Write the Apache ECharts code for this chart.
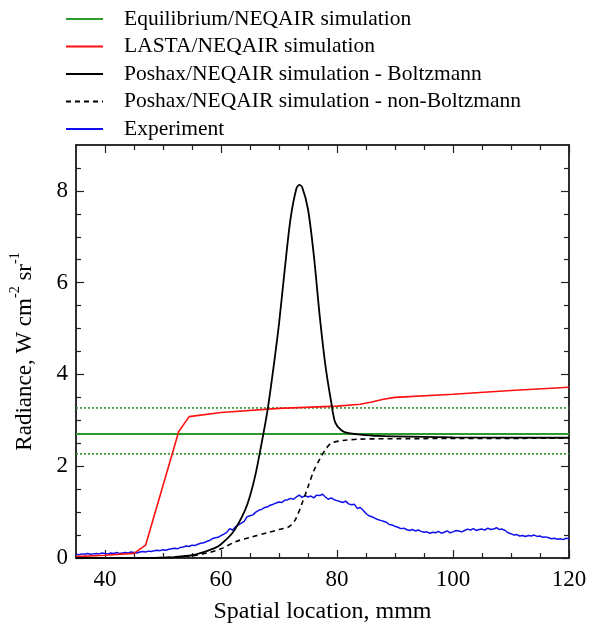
<!DOCTYPE html>
<html>
<head>
<meta charset="utf-8">
<script src="https://cdn.jsdelivr.net/npm/echarts@6/dist/echarts.min.js"></script>
<style>
  html, body { margin: 0; padding: 0; background: #fff; }
  #chart { width: 596px; height: 630px; }
</style>
</head>
<body>
<div id="chart"></div>
<script>
// 数据
const eqValue = 2.7
const eqUpper = 3.27
const eqLower = 2.27
const eqX = [35, 120]

const lastaX = [35, 40, 45, 47, 52.7, 54.5, 60, 70, 80, 84, 86, 88, 90, 100, 110, 120]
const lastaY = [0.03, 0.06, 0.1, 0.28, 2.75, 3.08, 3.17, 3.26, 3.31, 3.35, 3.4, 3.46, 3.5, 3.57, 3.65, 3.72]

const boltzX = [35, 45, 50, 52, 55, 57, 59, 60, 62, 64, 65, 66, 67, 68, 69, 70, 71, 72, 73, 73.5, 74, 75, 76, 77, 78, 79, 79.7, 80.8, 82, 84, 87, 90, 100, 120]
const boltzY = [0, 0, 0.01, 0.02, 0.06, 0.13, 0.22, 0.3, 0.55, 1.0, 1.35, 1.85, 2.5, 3.2, 4.1, 5.1, 6.3, 7.4, 8.05, 8.13, 8.08, 7.6, 6.6, 5.3, 4.2, 3.4, 2.95, 2.78, 2.72, 2.69, 2.66, 2.65, 2.63, 2.62]

const nonBoltzX = [35, 45, 50, 55, 58, 60, 62.6, 65, 68, 70, 71.7, 72.8, 74, 75, 76, 77, 78, 79, 81, 84, 90, 120]
const nonBoltzY = [0, 0, 0.01, 0.05, 0.12, 0.2, 0.36, 0.45, 0.55, 0.62, 0.68, 0.83, 1.2, 1.55, 1.9, 2.15, 2.36, 2.5, 2.56, 2.59, 2.6, 2.61]

// 实验数据，x 从 35 开始，每 0.5 mm 一个点
const expStart = 35
const expStep = 0.5
const expY = [
  0.08, 0.07, 0.09, 0.08, 0.10, 0.08, 0.09, 0.10, 0.09, 0.11,
  0.10, 0.09, 0.11, 0.10, 0.12, 0.10, 0.11, 0.12, 0.11, 0.13,
  0.12, 0.11, 0.13, 0.14, 0.13, 0.15, 0.14, 0.16, 0.17, 0.16,
  0.18, 0.17, 0.19, 0.20, 0.21, 0.20, 0.23, 0.24, 0.26, 0.25,
  0.28, 0.27, 0.30, 0.32, 0.33, 0.36, 0.38, 0.42, 0.44, 0.45,
  0.49, 0.52, 0.56, 0.64, 0.61, 0.68, 0.72, 0.76, 0.80, 0.90,
  0.92, 0.94, 1.00, 1.04, 1.06, 1.10, 1.11, 1.15, 1.17, 1.20,
  1.22, 1.21, 1.26, 1.27, 1.30, 1.28, 1.33, 1.37, 1.32, 1.36,
  1.33, 1.35, 1.31, 1.37, 1.36, 1.39, 1.33, 1.28, 1.31, 1.27,
  1.25, 1.23, 1.21, 1.24, 1.18, 1.16, 1.17, 1.08, 1.10, 1.04,
  0.97, 0.92, 0.90, 0.87, 0.84, 0.82, 0.80, 0.78, 0.73, 0.72,
  0.69, 0.67, 0.64, 0.65, 0.62, 0.60, 0.62, 0.59, 0.61, 0.58,
  0.56, 0.57, 0.54, 0.56, 0.55, 0.58, 0.54, 0.56, 0.59, 0.55,
  0.57, 0.60, 0.59, 0.57, 0.60, 0.63, 0.61, 0.64, 0.60, 0.62,
  0.63, 0.61, 0.65, 0.62, 0.63, 0.66, 0.62, 0.63, 0.60, 0.55,
  0.53, 0.50, 0.51, 0.48, 0.49, 0.47, 0.49, 0.48, 0.50, 0.47,
  0.48, 0.45, 0.46, 0.44, 0.42, 0.43, 0.41, 0.42, 0.40, 0.43,
  0.42
]

const xMajor = [40, 60, 80, 100, 120]
const xMinor = [45, 50, 55, 65, 70, 75, 85, 90, 95, 105, 110, 115]
const yMajor = [0, 2, 4, 6, 8]
const yMinor = [0.5, 1, 1.5, 2.5, 3, 3.5, 4.5, 5, 5.5, 6.5, 7, 7.5, 8.5]

const pairs = (xs, ys) => xs.map((x, i) => [x, ys[i]])
const expData = expY.map((y, i) => [expStart + i * expStep, y])

const font = 'Liberation Serif'
const axisColor = '#222'

function xAxisOf(pos, ticks, len, labels) {
  return {
    type: 'value', position: pos, min: 35, max: 120,
    axisLine: { show: true, onZero: false, lineStyle: { color: axisColor, width: 1.5 } },
    axisTick: { show: true, inside: true, length: len, customValues: ticks, lineStyle: { color: axisColor, width: 1.2 } },
    axisLabel: labels
      ? { show: true, customValues: ticks, margin: 10, color: '#000', fontSize: 23, fontFamily: font }
      : { show: false },
    splitLine: { show: false }
  }
}

function yAxisOf(pos, ticks, len, labels) {
  return {
    type: 'value', position: pos, min: 0, max: 9,
    axisLine: { show: true, onZero: false, lineStyle: { color: axisColor, width: 1.5 } },
    axisTick: { show: true, inside: true, length: len, customValues: ticks, lineStyle: { color: axisColor, width: 1.2 } },
    axisLabel: labels
      ? { show: true, customValues: ticks, margin: 8, color: '#000', fontSize: 23, fontFamily: font }
      : { show: false },
    splitLine: { show: false }
  }
}

const xMain = xAxisOf('bottom', xMajor, 8, true)
xMain.name = 'Spatial location, mmm'
xMain.nameLocation = 'middle'
xMain.nameGap = 42
xMain.nameTextStyle = { color: '#000', fontSize: 24, fontFamily: font }

const yMain = yAxisOf('left', yMajor, 8, true)
yMain.name = '{n|Radiance, W cm}{s|-2}{n| sr}{s|-1}'
yMain.nameLocation = 'middle'
yMain.nameGap = 40
yMain.nameTextStyle = {
  color: '#000', fontSize: 23, fontFamily: font,
  rich: {
    n: { fontSize: 23, fontFamily: font, color: '#000', lineHeight: 28, verticalAlign: 'bottom' },
    s: { fontSize: 14, fontFamily: font, color: '#000', lineHeight: 28, verticalAlign: 'top' }
  }
}

const myChart = echarts.init(document.getElementById('chart'))

const option = {
  animation: false,
  backgroundColor: '#fff',
  grid: { left: 71, right: 27, top: 145, bottom: 72 },
  legend: {
    orient: 'vertical', left: 60, top: 3,
    itemWidth: 37, itemHeight: 10, itemGap: 5.5,
    itemStyle: { opacity: 0 },
    textStyle: { fontSize: 21.5, lineHeight: 20, fontFamily: font, color: '#000', padding: [0, 0, 0, 16] },
    data: [
      'Equilibrium/NEQAIR simulation',
      'LASTA/NEQAIR simulation',
      'Poshax/NEQAIR simulation - Boltzmann',
      'Poshax/NEQAIR simulation - non-Boltzmann',
      'Experiment'
    ]
  },
  xAxis: [
    xMain,
    xAxisOf('bottom', xMinor, 5, false),
    xAxisOf('top', xMajor, 8, false),
    xAxisOf('top', xMinor, 5, false)
  ],
  yAxis: [
    yMain,
    yAxisOf('left', yMinor, 5, false),
    yAxisOf('right', yMajor, 8, false),
    yAxisOf('right', yMinor, 5, false)
  ],
  series: [
    {
      name: 'eq-upper', type: 'line', symbol: 'none', silent: true,
      data: pairs(eqX, [eqUpper, eqUpper]),
      lineStyle: { color: '#1f8f1f', width: 1.5, type: [2, 2] }
    },
    {
      name: 'eq-lower', type: 'line', symbol: 'none', silent: true,
      data: pairs(eqX, [eqLower, eqLower]),
      lineStyle: { color: '#1f8f1f', width: 1.5, type: [2, 2] }
    },
    {
      name: 'Equilibrium/NEQAIR simulation', type: 'line', symbol: 'none',
      data: pairs(eqX, [eqValue, eqValue]),
      itemStyle: { color: '#2e9a2e' },
      lineStyle: { color: '#2e9a2e', width: 2 }
    },
    {
      name: 'Experiment', type: 'line', symbol: 'none',
      data: expData,
      itemStyle: { color: '#1010ee' },
      lineStyle: { color: '#1010ee', width: 1.5 }
    },
    {
      name: 'LASTA/NEQAIR simulation', type: 'line', symbol: 'none',
      data: pairs(lastaX, lastaY),
      itemStyle: { color: '#ff1010' },
      lineStyle: { color: '#ff1010', width: 1.6 }
    },
    {
      name: 'Poshax/NEQAIR simulation - non-Boltzmann', type: 'line', symbol: 'none', smooth: 0.3,
      data: pairs(nonBoltzX, nonBoltzY),
      itemStyle: { color: '#000' },
      lineStyle: { color: '#000', width: 1.6, type: [5, 4] }
    },
    {
      name: 'Poshax/NEQAIR simulation - Boltzmann', type: 'line', symbol: 'none', smooth: 0.3,
      data: pairs(boltzX, boltzY),
      itemStyle: { color: '#000' },
      lineStyle: { color: '#000', width: 1.8 }
    }
  ]
}

myChart.setOption(option)
</script>
</body>
</html>
